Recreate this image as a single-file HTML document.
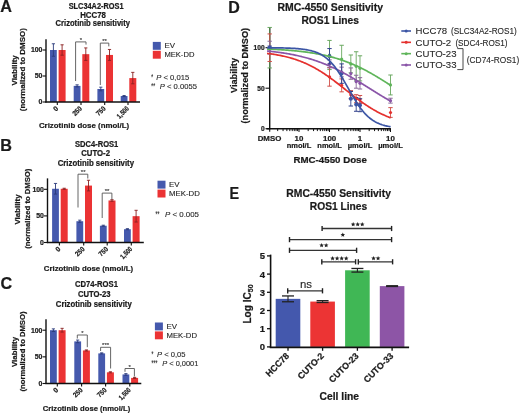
<!DOCTYPE html>
<html><head><meta charset="utf-8"><style>
html,body{margin:0;padding:0;background:#fff;}
svg{display:block;font-family:"Liberation Sans", sans-serif;filter:blur(0.3px);}
text[font-weight="bold"]{stroke:#1a1a1a;stroke-width:0.22px;}
text[font-weight="normal"],text:not([font-weight]){stroke:#2a2a2a;stroke-width:0.12px;}
</style></head><body>
<svg width="520" height="413" viewBox="0 0 520 413">
<rect width="520" height="413" fill="#fff"/>
<rect x="50" y="50" width="6.8" height="52" fill="#4559ad" />
<rect x="58.6" y="50" width="7" height="52" fill="#eb3334" />
<line x1="53.4" y1="43.76" x2="53.4" y2="56.24" stroke="#2a3a7a" stroke-width="0.9" />
<line x1="51.8" y1="43.76" x2="55" y2="43.76" stroke="#2a3a7a" stroke-width="0.9" />
<line x1="51.8" y1="56.24" x2="55" y2="56.24" stroke="#2a3a7a" stroke-width="0.9" />
<line x1="62.1" y1="44.8" x2="62.1" y2="55.2" stroke="#8a2020" stroke-width="0.9" />
<line x1="60.5" y1="44.8" x2="63.7" y2="44.8" stroke="#8a2020" stroke-width="0.9" />
<line x1="60.5" y1="55.2" x2="63.7" y2="55.2" stroke="#8a2020" stroke-width="0.9" />
<rect x="73.7" y="85.88" width="6.8" height="16.12" fill="#4559ad" />
<rect x="82.3" y="54.16" width="7" height="47.84" fill="#eb3334" />
<line x1="77.1" y1="84.84" x2="77.1" y2="86.92" stroke="#2a3a7a" stroke-width="0.9" />
<line x1="75.5" y1="84.84" x2="78.7" y2="84.84" stroke="#2a3a7a" stroke-width="0.9" />
<line x1="75.5" y1="86.92" x2="78.7" y2="86.92" stroke="#2a3a7a" stroke-width="0.9" />
<line x1="85.8" y1="47.92" x2="85.8" y2="60.4" stroke="#8a2020" stroke-width="0.9" />
<line x1="84.2" y1="47.92" x2="87.4" y2="47.92" stroke="#8a2020" stroke-width="0.9" />
<line x1="84.2" y1="60.4" x2="87.4" y2="60.4" stroke="#8a2020" stroke-width="0.9" />
<rect x="97.4" y="89" width="6.8" height="13" fill="#4559ad" />
<rect x="106" y="54.94" width="7" height="47.06" fill="#eb3334" />
<line x1="100.8" y1="87.18" x2="100.8" y2="90.82" stroke="#2a3a7a" stroke-width="0.9" />
<line x1="99.2" y1="87.18" x2="102.4" y2="87.18" stroke="#2a3a7a" stroke-width="0.9" />
<line x1="99.2" y1="90.82" x2="102.4" y2="90.82" stroke="#2a3a7a" stroke-width="0.9" />
<line x1="109.5" y1="49.48" x2="109.5" y2="60.4" stroke="#8a2020" stroke-width="0.9" />
<line x1="107.9" y1="49.48" x2="111.1" y2="49.48" stroke="#8a2020" stroke-width="0.9" />
<line x1="107.9" y1="60.4" x2="111.1" y2="60.4" stroke="#8a2020" stroke-width="0.9" />
<rect x="120.7" y="96.02" width="6.8" height="5.98" fill="#4559ad" />
<rect x="129.3" y="78.08" width="7" height="23.92" fill="#eb3334" />
<line x1="124.1" y1="95.5" x2="124.1" y2="96.54" stroke="#2a3a7a" stroke-width="0.9" />
<line x1="122.5" y1="95.5" x2="125.7" y2="95.5" stroke="#2a3a7a" stroke-width="0.9" />
<line x1="122.5" y1="96.54" x2="125.7" y2="96.54" stroke="#2a3a7a" stroke-width="0.9" />
<line x1="132.8" y1="72.36" x2="132.8" y2="83.8" stroke="#8a2020" stroke-width="0.9" />
<line x1="131.2" y1="72.36" x2="134.4" y2="72.36" stroke="#8a2020" stroke-width="0.9" />
<line x1="131.2" y1="83.8" x2="134.4" y2="83.8" stroke="#8a2020" stroke-width="0.9" />
<line x1="46" y1="39.3" x2="46" y2="102.6" stroke="#111" stroke-width="1.4" />
<line x1="45.3" y1="102" x2="140" y2="102" stroke="#111" stroke-width="1.4" />
<line x1="42.5" y1="50" x2="46" y2="50" stroke="#111" stroke-width="1.1" />
<text x="42.4" y="52.4" font-size="6.9" font-weight="bold" text-anchor="end" fill="#1a1a1a" >100</text>
<line x1="42.5" y1="76" x2="46" y2="76" stroke="#111" stroke-width="1.1" />
<text x="42.4" y="78.4" font-size="6.9" font-weight="bold" text-anchor="end" fill="#1a1a1a" >50</text>
<line x1="42.5" y1="102" x2="46" y2="102" stroke="#111" stroke-width="1.1" />
<text x="42.4" y="104.4" font-size="6.9" font-weight="bold" text-anchor="end" fill="#1a1a1a" >0</text>
<line x1="57.3" y1="102" x2="57.3" y2="105" stroke="#111" stroke-width="1.1" />
<line x1="81" y1="102" x2="81" y2="105" stroke="#111" stroke-width="1.1" />
<line x1="104.7" y1="102" x2="104.7" y2="105" stroke="#111" stroke-width="1.1" />
<line x1="128" y1="102" x2="128" y2="105" stroke="#111" stroke-width="1.1" />
<text transform="translate(58.8,109) rotate(-45)" font-size="7.0" font-weight="bold" text-anchor="end" fill="#1a1a1a">0</text>
<text transform="translate(82.5,109) rotate(-45)" font-size="7.0" font-weight="bold" text-anchor="end" fill="#1a1a1a" textLength="10.4" lengthAdjust="spacingAndGlyphs">250</text>
<text transform="translate(106.2,109) rotate(-45)" font-size="7.0" font-weight="bold" text-anchor="end" fill="#1a1a1a" textLength="10.4" lengthAdjust="spacingAndGlyphs">750</text>
<text transform="translate(129.5,109) rotate(-45)" font-size="7.0" font-weight="bold" text-anchor="end" fill="#1a1a1a" textLength="14.0" lengthAdjust="spacingAndGlyphs">1,500</text>
<polyline points="75.6,81 75.6,41.9 86,41.9 86,44.6" fill="none" stroke="#555" stroke-width="0.9"/>
<text x="81" y="42" font-size="6.0" font-weight="normal" text-anchor="middle" fill="#333" >*</text>
<polyline points="100.3,85 100.3,43.1 108.8,43.1 108.8,46.4" fill="none" stroke="#555" stroke-width="0.9"/>
<text x="104.5" y="43.2" font-size="6.0" font-weight="normal" text-anchor="middle" fill="#333" >**</text>
<text x="68.7" y="9" font-size="8.5" font-weight="bold" text-anchor="start" fill="#1a1a1a" textLength="54.8" lengthAdjust="spacingAndGlyphs" stroke="#1a1a1a" stroke-width="0.25">SLC34A2-ROS1</text>
<text x="80.2" y="17.6" font-size="8.5" font-weight="bold" text-anchor="start" fill="#1a1a1a" textLength="25.8" lengthAdjust="spacingAndGlyphs" stroke="#1a1a1a" stroke-width="0.25">HCC78</text>
<text x="55.6" y="26.1" font-size="8.5" font-weight="bold" text-anchor="start" fill="#1a1a1a" textLength="74.4" lengthAdjust="spacingAndGlyphs" stroke="#1a1a1a" stroke-width="0.25">Crizotinib sensitivity</text>
<text transform="translate(16.6,70.4) rotate(-90)" font-size="7.9" font-weight="bold" text-anchor="middle" fill="#1a1a1a">Viability</text>
<text transform="translate(25.2,69.7) rotate(-90)" font-size="7.9" font-weight="bold" text-anchor="middle" fill="#1a1a1a" textLength="83" lengthAdjust="spacingAndGlyphs">(normalized to DMSO)</text>
<text x="38.9" y="128.2" font-size="8.0" font-weight="bold" text-anchor="start" fill="#1a1a1a" textLength="90.2" lengthAdjust="spacingAndGlyphs" >Crizotinib dose (nmol/L)</text>
<rect x="152.8" y="41.9" width="8" height="7.9" fill="#4559ad" />
<rect x="152.8" y="50.8" width="8" height="7.9" fill="#eb3334" />
<text x="164.4" y="48.2" font-size="7.9" font-weight="normal" text-anchor="start" fill="#222" >EV</text>
<text x="164.4" y="57.2" font-size="7.9" font-weight="normal" text-anchor="start" fill="#222" textLength="30" lengthAdjust="spacingAndGlyphs" >MEK-DD</text>
<text x="151.2" y="79.6" font-size="8.6" fill="#2a2a2a" textLength="1.9" lengthAdjust="spacingAndGlyphs">*</text>
<text x="156.2" y="79.6" font-size="7.8" fill="#2a2a2a" textLength="33.0" lengthAdjust="spacingAndGlyphs"><tspan font-style="italic">P</tspan> &lt; 0,015</text>
<text x="151.2" y="88.7" font-size="8.6" fill="#2a2a2a" textLength="3.9" lengthAdjust="spacingAndGlyphs">**</text>
<text x="159.8" y="88.7" font-size="7.8" fill="#2a2a2a" textLength="37.1" lengthAdjust="spacingAndGlyphs"><tspan font-style="italic">P</tspan> &lt; 0.0055</text>
<text x="0.3" y="12.3" font-size="16.2" font-weight="bold" text-anchor="start" fill="#1a1a1a" >A</text>
<rect x="52.1" y="188.77" width="6.8" height="53.73" fill="#4559ad" />
<rect x="60.7" y="188.77" width="7" height="53.73" fill="#eb3334" />
<line x1="55.5" y1="183.45" x2="55.5" y2="194.09" stroke="#2a3a7a" stroke-width="0.9" />
<line x1="53.9" y1="183.45" x2="57.1" y2="183.45" stroke="#2a3a7a" stroke-width="0.9" />
<line x1="53.9" y1="194.09" x2="57.1" y2="194.09" stroke="#2a3a7a" stroke-width="0.9" />
<line x1="64.2" y1="188.24" x2="64.2" y2="189.3" stroke="#8a2020" stroke-width="0.9" />
<line x1="62.6" y1="188.24" x2="65.8" y2="188.24" stroke="#8a2020" stroke-width="0.9" />
<line x1="62.6" y1="189.3" x2="65.8" y2="189.3" stroke="#8a2020" stroke-width="0.9" />
<rect x="76.4" y="221.22" width="6.8" height="21.28" fill="#4559ad" />
<rect x="85" y="185.58" width="7" height="56.92" fill="#eb3334" />
<line x1="79.8" y1="220.16" x2="79.8" y2="222.28" stroke="#2a3a7a" stroke-width="0.9" />
<line x1="78.2" y1="220.16" x2="81.4" y2="220.16" stroke="#2a3a7a" stroke-width="0.9" />
<line x1="78.2" y1="222.28" x2="81.4" y2="222.28" stroke="#2a3a7a" stroke-width="0.9" />
<line x1="88.5" y1="180.26" x2="88.5" y2="190.9" stroke="#8a2020" stroke-width="0.9" />
<line x1="86.9" y1="180.26" x2="90.1" y2="180.26" stroke="#8a2020" stroke-width="0.9" />
<line x1="86.9" y1="190.9" x2="90.1" y2="190.9" stroke="#8a2020" stroke-width="0.9" />
<rect x="99.9" y="225.74" width="6.8" height="16.76" fill="#4559ad" />
<rect x="108.5" y="200.47" width="7" height="42.03" fill="#eb3334" />
<line x1="103.3" y1="225.21" x2="103.3" y2="226.27" stroke="#2a3a7a" stroke-width="0.9" />
<line x1="101.7" y1="225.21" x2="104.9" y2="225.21" stroke="#2a3a7a" stroke-width="0.9" />
<line x1="101.7" y1="226.27" x2="104.9" y2="226.27" stroke="#2a3a7a" stroke-width="0.9" />
<line x1="112" y1="199.67" x2="112" y2="201.27" stroke="#8a2020" stroke-width="0.9" />
<line x1="110.4" y1="199.67" x2="113.6" y2="199.67" stroke="#8a2020" stroke-width="0.9" />
<line x1="110.4" y1="201.27" x2="113.6" y2="201.27" stroke="#8a2020" stroke-width="0.9" />
<rect x="124" y="229.2" width="6.8" height="13.3" fill="#4559ad" />
<rect x="132.6" y="216.17" width="7" height="26.33" fill="#eb3334" />
<line x1="127.4" y1="228.67" x2="127.4" y2="229.73" stroke="#2a3a7a" stroke-width="0.9" />
<line x1="125.8" y1="228.67" x2="129" y2="228.67" stroke="#2a3a7a" stroke-width="0.9" />
<line x1="125.8" y1="229.73" x2="129" y2="229.73" stroke="#2a3a7a" stroke-width="0.9" />
<line x1="136.1" y1="210.31" x2="136.1" y2="222.02" stroke="#8a2020" stroke-width="0.9" />
<line x1="134.5" y1="210.31" x2="137.7" y2="210.31" stroke="#8a2020" stroke-width="0.9" />
<line x1="134.5" y1="222.02" x2="137.7" y2="222.02" stroke="#8a2020" stroke-width="0.9" />
<line x1="47.5" y1="178.36" x2="47.5" y2="243.1" stroke="#111" stroke-width="1.4" />
<line x1="46.8" y1="242.5" x2="143.8" y2="242.5" stroke="#111" stroke-width="1.4" />
<line x1="44" y1="189.3" x2="47.5" y2="189.3" stroke="#111" stroke-width="1.1" />
<text x="43.9" y="191.7" font-size="6.9" font-weight="bold" text-anchor="end" fill="#1a1a1a" >100</text>
<line x1="44" y1="215.9" x2="47.5" y2="215.9" stroke="#111" stroke-width="1.1" />
<text x="43.9" y="218.3" font-size="6.9" font-weight="bold" text-anchor="end" fill="#1a1a1a" >50</text>
<line x1="44" y1="242.5" x2="47.5" y2="242.5" stroke="#111" stroke-width="1.1" />
<text x="43.9" y="244.9" font-size="6.9" font-weight="bold" text-anchor="end" fill="#1a1a1a" >0</text>
<line x1="59.4" y1="242.5" x2="59.4" y2="245.5" stroke="#111" stroke-width="1.1" />
<line x1="83.7" y1="242.5" x2="83.7" y2="245.5" stroke="#111" stroke-width="1.1" />
<line x1="107.2" y1="242.5" x2="107.2" y2="245.5" stroke="#111" stroke-width="1.1" />
<line x1="131.3" y1="242.5" x2="131.3" y2="245.5" stroke="#111" stroke-width="1.1" />
<text transform="translate(60.9,249.5) rotate(-45)" font-size="7.0" font-weight="bold" text-anchor="end" fill="#1a1a1a">0</text>
<text transform="translate(85.2,249.5) rotate(-45)" font-size="7.0" font-weight="bold" text-anchor="end" fill="#1a1a1a" textLength="10.4" lengthAdjust="spacingAndGlyphs">250</text>
<text transform="translate(108.7,249.5) rotate(-45)" font-size="7.0" font-weight="bold" text-anchor="end" fill="#1a1a1a" textLength="10.4" lengthAdjust="spacingAndGlyphs">750</text>
<text transform="translate(132.8,249.5) rotate(-45)" font-size="7.0" font-weight="bold" text-anchor="end" fill="#1a1a1a" textLength="14.0" lengthAdjust="spacingAndGlyphs">1,500</text>
<polyline points="78,207.5 78,174.2 87.8,174.2 87.8,178.5" fill="none" stroke="#555" stroke-width="0.9"/>
<text x="83.2" y="174.3" font-size="6.0" font-weight="normal" text-anchor="middle" fill="#333" >**</text>
<polyline points="102.2,218 102.2,193.1 111.9,193.1 111.9,199.4" fill="none" stroke="#555" stroke-width="0.9"/>
<text x="107" y="193.2" font-size="6.0" font-weight="normal" text-anchor="middle" fill="#333" >**</text>
<text x="75" y="146.8" font-size="8.5" font-weight="bold" text-anchor="start" fill="#1a1a1a" textLength="43.3" lengthAdjust="spacingAndGlyphs" stroke="#1a1a1a" stroke-width="0.25">SDC4-ROS1</text>
<text x="81.2" y="156.1" font-size="8.5" font-weight="bold" text-anchor="start" fill="#1a1a1a" textLength="28.8" lengthAdjust="spacingAndGlyphs" stroke="#1a1a1a" stroke-width="0.25">CUTO-2</text>
<text x="57.7" y="166.1" font-size="8.5" font-weight="bold" text-anchor="start" fill="#1a1a1a" textLength="76.3" lengthAdjust="spacingAndGlyphs" stroke="#1a1a1a" stroke-width="0.25">Crizotinib sensitivity</text>
<text transform="translate(19.5,209.5) rotate(-90)" font-size="7.9" font-weight="bold" text-anchor="middle" fill="#1a1a1a">Viability</text>
<text transform="translate(29.5,208.7) rotate(-90)" font-size="7.9" font-weight="bold" text-anchor="middle" fill="#1a1a1a" textLength="80" lengthAdjust="spacingAndGlyphs">(normalized to DMSO)</text>
<text x="43.8" y="270.7" font-size="8.0" font-weight="bold" text-anchor="start" fill="#1a1a1a" textLength="89.2" lengthAdjust="spacingAndGlyphs" >Crizotinib dose (nmol/L)</text>
<rect x="157.5" y="180.7" width="8" height="7.9" fill="#4559ad" />
<rect x="157.5" y="189.6" width="8" height="7.9" fill="#eb3334" />
<text x="169.1" y="187" font-size="7.9" font-weight="normal" text-anchor="start" fill="#222" >EV</text>
<text x="169.1" y="196" font-size="7.9" font-weight="normal" text-anchor="start" fill="#222" textLength="30.8" lengthAdjust="spacingAndGlyphs" >MEK-DD</text>
<text x="155.6" y="217.1" font-size="8.6" fill="#2a2a2a" textLength="3.9" lengthAdjust="spacingAndGlyphs">**</text>
<text x="165.0" y="217.1" font-size="7.8" fill="#2a2a2a" textLength="34.0" lengthAdjust="spacingAndGlyphs"><tspan font-style="italic">P</tspan> &lt; 0.005</text>
<text x="0.2" y="150.9" font-size="16.2" font-weight="bold" text-anchor="start" fill="#1a1a1a" >B</text>
<rect x="50" y="330.2" width="6.8" height="53.3" fill="#4559ad" />
<rect x="58.6" y="330.2" width="7" height="53.3" fill="#eb3334" />
<line x1="53.4" y1="328.87" x2="53.4" y2="331.53" stroke="#2a3a7a" stroke-width="0.9" />
<line x1="51.8" y1="328.87" x2="55" y2="328.87" stroke="#2a3a7a" stroke-width="0.9" />
<line x1="51.8" y1="331.53" x2="55" y2="331.53" stroke="#2a3a7a" stroke-width="0.9" />
<line x1="62.1" y1="328.33" x2="62.1" y2="332.07" stroke="#8a2020" stroke-width="0.9" />
<line x1="60.5" y1="328.33" x2="63.7" y2="328.33" stroke="#8a2020" stroke-width="0.9" />
<line x1="60.5" y1="332.07" x2="63.7" y2="332.07" stroke="#8a2020" stroke-width="0.9" />
<rect x="74.3" y="341.39" width="6.8" height="42.11" fill="#4559ad" />
<rect x="82.9" y="350.45" width="7" height="33.05" fill="#eb3334" />
<line x1="77.7" y1="340.06" x2="77.7" y2="342.73" stroke="#2a3a7a" stroke-width="0.9" />
<line x1="76.1" y1="340.06" x2="79.3" y2="340.06" stroke="#2a3a7a" stroke-width="0.9" />
<line x1="76.1" y1="342.73" x2="79.3" y2="342.73" stroke="#2a3a7a" stroke-width="0.9" />
<line x1="86.4" y1="349.92" x2="86.4" y2="350.99" stroke="#8a2020" stroke-width="0.9" />
<line x1="84.8" y1="349.92" x2="88" y2="349.92" stroke="#8a2020" stroke-width="0.9" />
<line x1="84.8" y1="350.99" x2="88" y2="350.99" stroke="#8a2020" stroke-width="0.9" />
<rect x="98.3" y="353.39" width="6.8" height="30.11" fill="#4559ad" />
<rect x="106.9" y="372.31" width="7" height="11.19" fill="#eb3334" />
<line x1="101.7" y1="352.85" x2="101.7" y2="353.92" stroke="#2a3a7a" stroke-width="0.9" />
<line x1="100.1" y1="352.85" x2="103.3" y2="352.85" stroke="#2a3a7a" stroke-width="0.9" />
<line x1="100.1" y1="353.92" x2="103.3" y2="353.92" stroke="#2a3a7a" stroke-width="0.9" />
<line x1="110.4" y1="371.77" x2="110.4" y2="372.84" stroke="#8a2020" stroke-width="0.9" />
<line x1="108.8" y1="371.77" x2="112" y2="371.77" stroke="#8a2020" stroke-width="0.9" />
<line x1="108.8" y1="372.84" x2="112" y2="372.84" stroke="#8a2020" stroke-width="0.9" />
<rect x="122.5" y="374.44" width="6.8" height="9.06" fill="#4559ad" />
<rect x="131.1" y="377.9" width="7" height="5.6" fill="#eb3334" />
<line x1="125.9" y1="373.64" x2="125.9" y2="375.24" stroke="#2a3a7a" stroke-width="0.9" />
<line x1="124.3" y1="373.64" x2="127.5" y2="373.64" stroke="#2a3a7a" stroke-width="0.9" />
<line x1="124.3" y1="375.24" x2="127.5" y2="375.24" stroke="#2a3a7a" stroke-width="0.9" />
<line x1="134.6" y1="377.37" x2="134.6" y2="378.44" stroke="#8a2020" stroke-width="0.9" />
<line x1="133" y1="377.37" x2="136.2" y2="377.37" stroke="#8a2020" stroke-width="0.9" />
<line x1="133" y1="378.44" x2="136.2" y2="378.44" stroke="#8a2020" stroke-width="0.9" />
<line x1="46" y1="319.24" x2="46" y2="384.1" stroke="#111" stroke-width="1.4" />
<line x1="45.3" y1="383.5" x2="141.3" y2="383.5" stroke="#111" stroke-width="1.4" />
<line x1="42.5" y1="330.2" x2="46" y2="330.2" stroke="#111" stroke-width="1.1" />
<text x="42.4" y="332.6" font-size="6.9" font-weight="bold" text-anchor="end" fill="#1a1a1a" >100</text>
<line x1="42.5" y1="356.85" x2="46" y2="356.85" stroke="#111" stroke-width="1.1" />
<text x="42.4" y="359.25" font-size="6.9" font-weight="bold" text-anchor="end" fill="#1a1a1a" >50</text>
<line x1="42.5" y1="383.5" x2="46" y2="383.5" stroke="#111" stroke-width="1.1" />
<text x="42.4" y="385.9" font-size="6.9" font-weight="bold" text-anchor="end" fill="#1a1a1a" >0</text>
<line x1="57.3" y1="383.5" x2="57.3" y2="386.5" stroke="#111" stroke-width="1.1" />
<line x1="81.6" y1="383.5" x2="81.6" y2="386.5" stroke="#111" stroke-width="1.1" />
<line x1="105.6" y1="383.5" x2="105.6" y2="386.5" stroke="#111" stroke-width="1.1" />
<line x1="129.8" y1="383.5" x2="129.8" y2="386.5" stroke="#111" stroke-width="1.1" />
<text transform="translate(58.8,390.5) rotate(-45)" font-size="7.0" font-weight="bold" text-anchor="end" fill="#1a1a1a">0</text>
<text transform="translate(83.1,390.5) rotate(-45)" font-size="7.0" font-weight="bold" text-anchor="end" fill="#1a1a1a" textLength="10.4" lengthAdjust="spacingAndGlyphs">250</text>
<text transform="translate(107.1,390.5) rotate(-45)" font-size="7.0" font-weight="bold" text-anchor="end" fill="#1a1a1a" textLength="10.4" lengthAdjust="spacingAndGlyphs">750</text>
<text transform="translate(131.3,390.5) rotate(-45)" font-size="7.0" font-weight="bold" text-anchor="end" fill="#1a1a1a" textLength="14.0" lengthAdjust="spacingAndGlyphs">1,500</text>
<polyline points="77.3,338.5 77.3,335.0 87.3,335.0 87.3,347.2" fill="none" stroke="#555" stroke-width="0.9"/>
<text x="82.3" y="335.1" font-size="6.0" font-weight="normal" text-anchor="middle" fill="#333" >*</text>
<polyline points="100.6,351 100.6,347.3 110.6,347.3 110.6,368.5" fill="none" stroke="#555" stroke-width="0.9"/>
<text x="105.6" y="347.4" font-size="6.0" font-weight="normal" text-anchor="middle" fill="#333" >***</text>
<polyline points="125,371.8 125,368.5 134.4,368.5 134.4,376.5" fill="none" stroke="#555" stroke-width="0.9"/>
<text x="129.7" y="368.6" font-size="6.0" font-weight="normal" text-anchor="middle" fill="#333" >*</text>
<text x="75" y="287.2" font-size="8.5" font-weight="bold" text-anchor="start" fill="#1a1a1a" textLength="42.9" lengthAdjust="spacingAndGlyphs" stroke="#1a1a1a" stroke-width="0.25">CD74-ROS1</text>
<text x="77.9" y="297.3" font-size="8.5" font-weight="bold" text-anchor="start" fill="#1a1a1a" textLength="32.7" lengthAdjust="spacingAndGlyphs" stroke="#1a1a1a" stroke-width="0.25">CUTO-23</text>
<text x="55.8" y="306.6" font-size="8.5" font-weight="bold" text-anchor="start" fill="#1a1a1a" textLength="75.9" lengthAdjust="spacingAndGlyphs" stroke="#1a1a1a" stroke-width="0.25">Crizotinib sensitivity</text>
<text transform="translate(16.6,352) rotate(-90)" font-size="7.9" font-weight="bold" text-anchor="middle" fill="#1a1a1a">Viability</text>
<text transform="translate(25.2,351.5) rotate(-90)" font-size="7.9" font-weight="bold" text-anchor="middle" fill="#1a1a1a" textLength="80" lengthAdjust="spacingAndGlyphs">(normalized to DMSO)</text>
<text x="42.7" y="410.7" font-size="8.0" font-weight="bold" text-anchor="start" fill="#1a1a1a" textLength="87.5" lengthAdjust="spacingAndGlyphs" >Crizotinib dose (nmol/L)</text>
<rect x="154.9" y="322.5" width="8" height="7.9" fill="#4559ad" />
<rect x="154.9" y="331.4" width="8" height="7.9" fill="#eb3334" />
<text x="166.5" y="328.8" font-size="7.9" font-weight="normal" text-anchor="start" fill="#222" >EV</text>
<text x="166.5" y="337.8" font-size="7.9" font-weight="normal" text-anchor="start" fill="#222" textLength="30.5" lengthAdjust="spacingAndGlyphs" >MEK-DD</text>
<text x="151.6" y="356.6" font-size="8.6" fill="#2a2a2a" textLength="1.9" lengthAdjust="spacingAndGlyphs">*</text>
<text x="157.0" y="356.6" font-size="7.8" fill="#2a2a2a" textLength="28.5" lengthAdjust="spacingAndGlyphs"><tspan font-style="italic">P</tspan> &lt; 0,05</text>
<text x="151.6" y="365.8" font-size="8.6" fill="#2a2a2a" textLength="5.8" lengthAdjust="spacingAndGlyphs">***</text>
<text x="162.2" y="365.8" font-size="7.8" fill="#2a2a2a" textLength="36.2" lengthAdjust="spacingAndGlyphs"><tspan font-style="italic">P</tspan> &lt; 0,0001</text>
<text x="0.4" y="289" font-size="16.2" font-weight="bold" text-anchor="start" fill="#1a1a1a" >C</text>
<text x="228.2" y="12.7" font-size="16" font-weight="bold" text-anchor="start" fill="#1a1a1a" >D</text>
<text x="330.2" y="11.2" font-size="10.4" font-weight="bold" text-anchor="middle" fill="#1a1a1a" textLength="105.5" lengthAdjust="spacingAndGlyphs" >RMC-4550 Sensitivity</text>
<text x="330.2" y="23.6" font-size="10.4" font-weight="bold" text-anchor="middle" fill="#1a1a1a" textLength="57.5" lengthAdjust="spacingAndGlyphs" >ROS1 Lines</text>
<line x1="269.7" y1="27.5" x2="269.7" y2="129.3" stroke="#111" stroke-width="1.4" />
<line x1="266.5" y1="128.7" x2="390.9" y2="128.7" stroke="#111" stroke-width="1.4" />
<line x1="265.5" y1="47.7" x2="269.7" y2="47.7" stroke="#111" stroke-width="1.1" />
<text x="264.6" y="50" font-size="6.6" font-weight="bold" text-anchor="end" fill="#1a1a1a" >100</text>
<line x1="265.5" y1="88.2" x2="269.7" y2="88.2" stroke="#111" stroke-width="1.1" />
<text x="264.6" y="90.5" font-size="6.6" font-weight="bold" text-anchor="end" fill="#1a1a1a" >50</text>
<line x1="265.5" y1="128.7" x2="269.7" y2="128.7" stroke="#111" stroke-width="1.1" />
<text x="264.6" y="131" font-size="6.6" font-weight="bold" text-anchor="end" fill="#1a1a1a" >0</text>
<line x1="269.7" y1="128.7" x2="269.7" y2="131.8" stroke="#111" stroke-width="1.1" />
<line x1="277.68" y1="128.7" x2="277.68" y2="131.1" stroke="#111" stroke-width="1.0" />
<line x1="283.05" y1="128.7" x2="283.05" y2="131.1" stroke="#111" stroke-width="1.0" />
<line x1="286.86" y1="128.7" x2="286.86" y2="131.1" stroke="#111" stroke-width="1.0" />
<line x1="289.82" y1="128.7" x2="289.82" y2="131.1" stroke="#111" stroke-width="1.0" />
<line x1="292.23" y1="128.7" x2="292.23" y2="131.1" stroke="#111" stroke-width="1.0" />
<line x1="294.28" y1="128.7" x2="294.28" y2="131.1" stroke="#111" stroke-width="1.0" />
<line x1="296.04" y1="128.7" x2="296.04" y2="131.1" stroke="#111" stroke-width="1.0" />
<line x1="297.6" y1="128.7" x2="297.6" y2="131.1" stroke="#111" stroke-width="1.0" />
<line x1="299" y1="128.7" x2="299" y2="132" stroke="#111" stroke-width="1.0" />
<line x1="308.18" y1="128.7" x2="308.18" y2="131.1" stroke="#111" stroke-width="1.0" />
<line x1="313.55" y1="128.7" x2="313.55" y2="131.1" stroke="#111" stroke-width="1.0" />
<line x1="317.36" y1="128.7" x2="317.36" y2="131.1" stroke="#111" stroke-width="1.0" />
<line x1="320.32" y1="128.7" x2="320.32" y2="131.1" stroke="#111" stroke-width="1.0" />
<line x1="322.73" y1="128.7" x2="322.73" y2="131.1" stroke="#111" stroke-width="1.0" />
<line x1="324.78" y1="128.7" x2="324.78" y2="131.1" stroke="#111" stroke-width="1.0" />
<line x1="326.54" y1="128.7" x2="326.54" y2="131.1" stroke="#111" stroke-width="1.0" />
<line x1="328.1" y1="128.7" x2="328.1" y2="131.1" stroke="#111" stroke-width="1.0" />
<line x1="329.5" y1="128.7" x2="329.5" y2="132" stroke="#111" stroke-width="1.0" />
<line x1="338.68" y1="128.7" x2="338.68" y2="131.1" stroke="#111" stroke-width="1.0" />
<line x1="344.05" y1="128.7" x2="344.05" y2="131.1" stroke="#111" stroke-width="1.0" />
<line x1="347.86" y1="128.7" x2="347.86" y2="131.1" stroke="#111" stroke-width="1.0" />
<line x1="350.82" y1="128.7" x2="350.82" y2="131.1" stroke="#111" stroke-width="1.0" />
<line x1="353.23" y1="128.7" x2="353.23" y2="131.1" stroke="#111" stroke-width="1.0" />
<line x1="355.28" y1="128.7" x2="355.28" y2="131.1" stroke="#111" stroke-width="1.0" />
<line x1="357.04" y1="128.7" x2="357.04" y2="131.1" stroke="#111" stroke-width="1.0" />
<line x1="358.6" y1="128.7" x2="358.6" y2="131.1" stroke="#111" stroke-width="1.0" />
<line x1="360" y1="128.7" x2="360" y2="132" stroke="#111" stroke-width="1.0" />
<line x1="369.18" y1="128.7" x2="369.18" y2="131.1" stroke="#111" stroke-width="1.0" />
<line x1="374.55" y1="128.7" x2="374.55" y2="131.1" stroke="#111" stroke-width="1.0" />
<line x1="378.36" y1="128.7" x2="378.36" y2="131.1" stroke="#111" stroke-width="1.0" />
<line x1="381.32" y1="128.7" x2="381.32" y2="131.1" stroke="#111" stroke-width="1.0" />
<line x1="383.73" y1="128.7" x2="383.73" y2="131.1" stroke="#111" stroke-width="1.0" />
<line x1="385.78" y1="128.7" x2="385.78" y2="131.1" stroke="#111" stroke-width="1.0" />
<line x1="387.54" y1="128.7" x2="387.54" y2="131.1" stroke="#111" stroke-width="1.0" />
<line x1="389.1" y1="128.7" x2="389.1" y2="131.1" stroke="#111" stroke-width="1.0" />
<line x1="390.5" y1="128.7" x2="390.5" y2="132" stroke="#111" stroke-width="1.0" />
<text x="269.5" y="141" font-size="7.9" font-weight="bold" text-anchor="middle" fill="#1a1a1a" textLength="23.6" lengthAdjust="spacingAndGlyphs" >DMSO</text>
<text x="299" y="141" font-size="7.9" font-weight="bold" text-anchor="middle" fill="#1a1a1a" >10</text>
<text x="299" y="148.2" font-size="7.4" font-weight="bold" text-anchor="middle" fill="#1a1a1a" textLength="24.5" lengthAdjust="spacingAndGlyphs" >nmol/L</text>
<text x="329.6" y="141" font-size="7.9" font-weight="bold" text-anchor="middle" fill="#1a1a1a" >100</text>
<text x="329.6" y="148.2" font-size="7.4" font-weight="bold" text-anchor="middle" fill="#1a1a1a" textLength="24.5" lengthAdjust="spacingAndGlyphs" >nmol/L</text>
<text x="360" y="141" font-size="7.9" font-weight="bold" text-anchor="middle" fill="#1a1a1a" >1</text>
<text x="360" y="148.2" font-size="7.4" font-weight="bold" text-anchor="middle" fill="#1a1a1a" textLength="24.5" lengthAdjust="spacingAndGlyphs" >µmol/L</text>
<text x="390.5" y="141" font-size="7.9" font-weight="bold" text-anchor="middle" fill="#1a1a1a" >10</text>
<text x="390.5" y="148.2" font-size="7.4" font-weight="bold" text-anchor="middle" fill="#1a1a1a" textLength="24.5" lengthAdjust="spacingAndGlyphs" >µmol/L</text>
<text x="330.2" y="163" font-size="9.7" font-weight="bold" text-anchor="middle" fill="#1a1a1a" textLength="73.4" lengthAdjust="spacingAndGlyphs" >RMC-4550 Dose</text>
<text transform="translate(236.8,75.5) rotate(-90)" font-size="9.2" font-weight="bold" text-anchor="middle" fill="#1a1a1a">Viability</text>
<text transform="translate(247.8,75.7) rotate(-90)" font-size="9.2" font-weight="bold" text-anchor="middle" fill="#1a1a1a" textLength="95.5" lengthAdjust="spacingAndGlyphs">(normalized to DMSO)</text>
<line x1="269.7" y1="27.45" x2="269.7" y2="67.95" stroke="#6aa860" stroke-width="0.9" />
<line x1="267.5" y1="27.45" x2="271.9" y2="27.45" stroke="#6aa860" stroke-width="1.0" />
<line x1="267.5" y1="67.95" x2="271.9" y2="67.95" stroke="#6aa860" stroke-width="1.0" />
<circle cx="269.70" cy="47.70" r="1.6" fill="#5fb55a"/>
<line x1="329.5" y1="40.41" x2="329.5" y2="69.57" stroke="#6aa860" stroke-width="0.9" />
<line x1="327.3" y1="40.41" x2="331.7" y2="40.41" stroke="#6aa860" stroke-width="1.0" />
<line x1="327.3" y1="69.57" x2="331.7" y2="69.57" stroke="#6aa860" stroke-width="1.0" />
<circle cx="329.50" cy="54.99" r="1.6" fill="#5fb55a"/>
<line x1="341.64" y1="45.27" x2="341.64" y2="72.81" stroke="#6aa860" stroke-width="0.9" />
<line x1="339.44" y1="45.27" x2="343.84" y2="45.27" stroke="#6aa860" stroke-width="1.0" />
<line x1="339.44" y1="72.81" x2="343.84" y2="72.81" stroke="#6aa860" stroke-width="1.0" />
<circle cx="341.64" cy="59.04" r="1.6" fill="#5fb55a"/>
<line x1="350.82" y1="54.99" x2="350.82" y2="72.81" stroke="#6aa860" stroke-width="0.9" />
<line x1="348.62" y1="54.99" x2="353.02" y2="54.99" stroke="#6aa860" stroke-width="1.0" />
<line x1="348.62" y1="72.81" x2="353.02" y2="72.81" stroke="#6aa860" stroke-width="1.0" />
<circle cx="350.82" cy="63.90" r="1.6" fill="#5fb55a"/>
<line x1="356.19" y1="51.75" x2="356.19" y2="80.91" stroke="#6aa860" stroke-width="0.9" />
<line x1="353.99" y1="51.75" x2="358.39" y2="51.75" stroke="#6aa860" stroke-width="1.0" />
<line x1="353.99" y1="80.91" x2="358.39" y2="80.91" stroke="#6aa860" stroke-width="1.0" />
<circle cx="356.19" cy="66.33" r="1.6" fill="#5fb55a"/>
<line x1="360" y1="55.8" x2="360" y2="80.91" stroke="#6aa860" stroke-width="0.9" />
<line x1="357.8" y1="55.8" x2="362.2" y2="55.8" stroke="#6aa860" stroke-width="1.0" />
<line x1="357.8" y1="80.91" x2="362.2" y2="80.91" stroke="#6aa860" stroke-width="1.0" />
<circle cx="360.00" cy="68.35" r="1.6" fill="#5fb55a"/>
<line x1="390.5" y1="75" x2="390.5" y2="94.92" stroke="#6aa860" stroke-width="0.9" />
<line x1="388.3" y1="75" x2="392.7" y2="75" stroke="#6aa860" stroke-width="1.0" />
<line x1="388.3" y1="94.92" x2="392.7" y2="94.92" stroke="#6aa860" stroke-width="1.0" />
<circle cx="390.50" cy="84.96" r="1.6" fill="#5fb55a"/>
<line x1="269.7" y1="33.93" x2="269.7" y2="61.47" stroke="#d0504a" stroke-width="0.9" />
<line x1="267.5" y1="33.93" x2="271.9" y2="33.93" stroke="#d0504a" stroke-width="1.0" />
<line x1="267.5" y1="61.47" x2="271.9" y2="61.47" stroke="#d0504a" stroke-width="1.0" />
<circle cx="269.70" cy="47.70" r="1.6" fill="#e5312e"/>
<line x1="329.5" y1="67.54" x2="329.5" y2="86.17" stroke="#d0504a" stroke-width="0.9" />
<line x1="327.3" y1="67.54" x2="331.7" y2="67.54" stroke="#d0504a" stroke-width="1.0" />
<line x1="327.3" y1="86.17" x2="331.7" y2="86.17" stroke="#d0504a" stroke-width="1.0" />
<circle cx="329.50" cy="76.86" r="1.6" fill="#e5312e"/>
<line x1="341.64" y1="78.88" x2="341.64" y2="91.84" stroke="#d0504a" stroke-width="0.9" />
<line x1="339.44" y1="78.88" x2="343.84" y2="78.88" stroke="#d0504a" stroke-width="1.0" />
<line x1="339.44" y1="91.84" x2="343.84" y2="91.84" stroke="#d0504a" stroke-width="1.0" />
<circle cx="341.64" cy="85.36" r="1.6" fill="#e5312e"/>
<line x1="350.82" y1="90.63" x2="350.82" y2="98.73" stroke="#d0504a" stroke-width="0.9" />
<line x1="348.62" y1="90.63" x2="353.02" y2="90.63" stroke="#d0504a" stroke-width="1.0" />
<line x1="348.62" y1="98.73" x2="353.02" y2="98.73" stroke="#d0504a" stroke-width="1.0" />
<circle cx="350.82" cy="94.68" r="1.6" fill="#e5312e"/>
<line x1="356.19" y1="94.68" x2="356.19" y2="102.78" stroke="#d0504a" stroke-width="0.9" />
<line x1="353.99" y1="94.68" x2="358.39" y2="94.68" stroke="#d0504a" stroke-width="1.0" />
<line x1="353.99" y1="102.78" x2="358.39" y2="102.78" stroke="#d0504a" stroke-width="1.0" />
<circle cx="356.19" cy="98.73" r="1.6" fill="#e5312e"/>
<line x1="360" y1="95.49" x2="360" y2="103.59" stroke="#d0504a" stroke-width="0.9" />
<line x1="357.8" y1="95.49" x2="362.2" y2="95.49" stroke="#d0504a" stroke-width="1.0" />
<line x1="357.8" y1="103.59" x2="362.2" y2="103.59" stroke="#d0504a" stroke-width="1.0" />
<circle cx="360.00" cy="99.54" r="1.6" fill="#e5312e"/>
<line x1="390.5" y1="107.64" x2="390.5" y2="117.36" stroke="#d0504a" stroke-width="0.9" />
<line x1="388.3" y1="107.64" x2="392.7" y2="107.64" stroke="#d0504a" stroke-width="1.0" />
<line x1="388.3" y1="117.36" x2="392.7" y2="117.36" stroke="#d0504a" stroke-width="1.0" />
<circle cx="390.50" cy="112.50" r="1.6" fill="#e5312e"/>
<line x1="269.7" y1="41.22" x2="269.7" y2="54.18" stroke="#8a6a9a" stroke-width="0.9" />
<line x1="267.5" y1="41.22" x2="271.9" y2="41.22" stroke="#8a6a9a" stroke-width="1.0" />
<line x1="267.5" y1="54.18" x2="271.9" y2="54.18" stroke="#8a6a9a" stroke-width="1.0" />
<circle cx="269.70" cy="47.70" r="1.6" fill="#8a55a8"/>
<line x1="329.5" y1="59.85" x2="329.5" y2="67.95" stroke="#8a6a9a" stroke-width="0.9" />
<line x1="327.3" y1="59.85" x2="331.7" y2="59.85" stroke="#8a6a9a" stroke-width="1.0" />
<line x1="327.3" y1="67.95" x2="331.7" y2="67.95" stroke="#8a6a9a" stroke-width="1.0" />
<circle cx="329.50" cy="63.90" r="1.6" fill="#8a55a8"/>
<line x1="341.64" y1="67.14" x2="341.64" y2="76.86" stroke="#8a6a9a" stroke-width="0.9" />
<line x1="339.44" y1="67.14" x2="343.84" y2="67.14" stroke="#8a6a9a" stroke-width="1.0" />
<line x1="339.44" y1="76.86" x2="343.84" y2="76.86" stroke="#8a6a9a" stroke-width="1.0" />
<circle cx="341.64" cy="72.00" r="1.6" fill="#8a55a8"/>
<line x1="350.82" y1="67.95" x2="350.82" y2="79.29" stroke="#8a6a9a" stroke-width="0.9" />
<line x1="348.62" y1="67.95" x2="353.02" y2="67.95" stroke="#8a6a9a" stroke-width="1.0" />
<line x1="348.62" y1="79.29" x2="353.02" y2="79.29" stroke="#8a6a9a" stroke-width="1.0" />
<circle cx="350.82" cy="73.62" r="1.6" fill="#8a55a8"/>
<line x1="356.19" y1="75.24" x2="356.19" y2="88.2" stroke="#8a6a9a" stroke-width="0.9" />
<line x1="353.99" y1="75.24" x2="358.39" y2="75.24" stroke="#8a6a9a" stroke-width="1.0" />
<line x1="353.99" y1="88.2" x2="358.39" y2="88.2" stroke="#8a6a9a" stroke-width="1.0" />
<circle cx="356.19" cy="81.72" r="1.6" fill="#8a55a8"/>
<line x1="360" y1="77.67" x2="360" y2="89.01" stroke="#8a6a9a" stroke-width="0.9" />
<line x1="357.8" y1="77.67" x2="362.2" y2="77.67" stroke="#8a6a9a" stroke-width="1.0" />
<line x1="357.8" y1="89.01" x2="362.2" y2="89.01" stroke="#8a6a9a" stroke-width="1.0" />
<circle cx="360.00" cy="83.34" r="1.6" fill="#8a55a8"/>
<line x1="390.5" y1="98.24" x2="390.5" y2="103.1" stroke="#8a6a9a" stroke-width="0.9" />
<line x1="388.3" y1="98.24" x2="392.7" y2="98.24" stroke="#8a6a9a" stroke-width="1.0" />
<line x1="388.3" y1="103.1" x2="392.7" y2="103.1" stroke="#8a6a9a" stroke-width="1.0" />
<circle cx="390.50" cy="100.67" r="1.6" fill="#8a55a8"/>
<line x1="269.7" y1="46.08" x2="269.7" y2="49.32" stroke="#2f3f8a" stroke-width="0.9" />
<line x1="267.5" y1="46.08" x2="271.9" y2="46.08" stroke="#2f3f8a" stroke-width="1.0" />
<line x1="267.5" y1="49.32" x2="271.9" y2="49.32" stroke="#2f3f8a" stroke-width="1.0" />
<circle cx="269.70" cy="47.70" r="2.0" fill="#3b55a5"/>
<line x1="329.5" y1="48.59" x2="329.5" y2="63.98" stroke="#2f3f8a" stroke-width="0.9" />
<line x1="327.3" y1="48.59" x2="331.7" y2="48.59" stroke="#2f3f8a" stroke-width="1.0" />
<line x1="327.3" y1="63.98" x2="331.7" y2="63.98" stroke="#2f3f8a" stroke-width="1.0" />
<circle cx="329.50" cy="56.29" r="2.0" fill="#3b55a5"/>
<line x1="341.64" y1="63.9" x2="341.64" y2="83.34" stroke="#2f3f8a" stroke-width="0.9" />
<line x1="339.44" y1="63.9" x2="343.84" y2="63.9" stroke="#2f3f8a" stroke-width="1.0" />
<line x1="339.44" y1="83.34" x2="343.84" y2="83.34" stroke="#2f3f8a" stroke-width="1.0" />
<circle cx="341.64" cy="73.62" r="2.0" fill="#3b55a5"/>
<line x1="350.82" y1="91.44" x2="350.82" y2="106.02" stroke="#2f3f8a" stroke-width="0.9" />
<line x1="348.62" y1="91.44" x2="353.02" y2="91.44" stroke="#2f3f8a" stroke-width="1.0" />
<line x1="348.62" y1="106.02" x2="353.02" y2="106.02" stroke="#2f3f8a" stroke-width="1.0" />
<circle cx="350.82" cy="98.73" r="2.0" fill="#3b55a5"/>
<line x1="356.19" y1="97.51" x2="356.19" y2="111.28" stroke="#2f3f8a" stroke-width="0.9" />
<line x1="353.99" y1="97.51" x2="358.39" y2="97.51" stroke="#2f3f8a" stroke-width="1.0" />
<line x1="353.99" y1="111.28" x2="358.39" y2="111.28" stroke="#2f3f8a" stroke-width="1.0" />
<circle cx="356.19" cy="104.40" r="2.0" fill="#3b55a5"/>
<line x1="360" y1="98.73" x2="360" y2="111.69" stroke="#2f3f8a" stroke-width="0.9" />
<line x1="357.8" y1="98.73" x2="362.2" y2="98.73" stroke="#2f3f8a" stroke-width="1.0" />
<line x1="357.8" y1="111.69" x2="362.2" y2="111.69" stroke="#2f3f8a" stroke-width="1.0" />
<circle cx="360.00" cy="105.21" r="2.0" fill="#3b55a5"/>
<polyline points="267.0,49.00 268.0,49.04 269.0,49.08 270.0,49.13 271.0,49.17 272.0,49.22 273.0,49.27 274.0,49.32 275.0,49.37 276.0,49.43 277.0,49.48 278.0,49.54 279.0,49.60 280.0,49.66 281.0,49.72 282.0,49.78 283.0,49.85 284.0,49.92 285.0,49.99 286.0,50.06 287.0,50.14 288.0,50.21 289.0,50.29 290.0,50.38 291.0,50.46 292.0,50.55 293.0,50.64 294.0,50.73 295.0,50.82 296.0,50.92 297.0,51.02 298.0,51.13 299.0,51.23 300.0,51.34 301.0,51.46 302.0,51.57 303.0,51.70 304.0,51.82 305.0,51.95 306.0,52.08 307.0,52.21 308.0,52.35 309.0,52.50 310.0,52.64 311.0,52.79 312.0,52.95 313.0,53.11 314.0,53.27 315.0,53.44 316.0,53.62 317.0,53.80 318.0,53.98 319.0,54.17 320.0,54.36 321.0,54.56 322.0,54.77 323.0,54.98 324.0,55.19 325.0,55.41 326.0,55.64 327.0,55.88 328.0,56.11 329.0,56.36 330.0,56.61 331.0,56.87 332.0,57.14 333.0,57.41 334.0,57.69 335.0,57.97 336.0,58.26 337.0,58.56 338.0,58.87 339.0,59.18 340.0,59.50 341.0,59.83 342.0,60.16 343.0,60.51 344.0,60.86 345.0,61.22 346.0,61.58 347.0,61.96 348.0,62.34 349.0,62.73 350.0,63.12 351.0,63.53 352.0,63.94 353.0,64.37 354.0,64.80 355.0,65.23 356.0,65.68 357.0,66.13 358.0,66.59 359.0,67.06 360.0,67.54 361.0,68.03 362.0,68.52 363.0,69.02 364.0,69.53 365.0,70.05 366.0,70.57 367.0,71.10 368.0,71.64 369.0,72.19 370.0,72.74 371.0,73.30 372.0,73.87 373.0,74.44 374.0,75.02 375.0,75.61 376.0,76.20 377.0,76.79 378.0,77.40 379.0,78.00 380.0,78.62 381.0,79.23 382.0,79.85 383.0,80.48 384.0,81.11 385.0,81.74 386.0,82.38 387.0,83.02 388.0,83.66 389.0,84.30 390.0,84.95 390.6,85.34" fill="none" stroke="#5fb55a" stroke-width="1.7" stroke-linejoin="round"/>
<polyline points="267.0,50.99 268.0,51.08 269.0,51.19 270.0,51.29 271.0,51.40 272.0,51.51 273.0,51.62 274.0,51.74 275.0,51.86 276.0,51.99 277.0,52.11 278.0,52.24 279.0,52.38 280.0,52.52 281.0,52.66 282.0,52.81 283.0,52.96 284.0,53.11 285.0,53.27 286.0,53.43 287.0,53.60 288.0,53.77 289.0,53.95 290.0,54.13 291.0,54.31 292.0,54.50 293.0,54.70 294.0,54.90 295.0,55.10 296.0,55.31 297.0,55.53 298.0,55.75 299.0,55.98 300.0,56.21 301.0,56.45 302.0,56.70 303.0,56.95 304.0,57.20 305.0,57.47 306.0,57.73 307.0,58.01 308.0,58.29 309.0,58.58 310.0,58.87 311.0,59.18 312.0,59.48 313.0,59.80 314.0,60.12 315.0,60.45 316.0,60.79 317.0,61.13 318.0,61.48 319.0,61.84 320.0,62.20 321.0,62.57 322.0,62.95 323.0,63.34 324.0,63.74 325.0,64.14 326.0,64.55 327.0,64.96 328.0,65.39 329.0,65.82 330.0,66.26 331.0,66.70 332.0,67.16 333.0,67.62 334.0,68.09 335.0,68.56 336.0,69.05 337.0,69.54 338.0,70.03 339.0,70.54 340.0,71.05 341.0,71.57 342.0,72.09 343.0,72.62 344.0,73.16 345.0,73.70 346.0,74.25 347.0,74.81 348.0,75.37 349.0,75.94 350.0,76.51 351.0,77.08 352.0,77.67 353.0,78.25 354.0,78.84 355.0,79.44 356.0,80.04 357.0,80.64 358.0,81.25 359.0,81.86 360.0,82.47 361.0,83.09 362.0,83.71 363.0,84.33 364.0,84.95 365.0,85.57 366.0,86.20 367.0,86.82 368.0,87.45 369.0,88.07 370.0,88.70 371.0,89.33 372.0,89.95 373.0,90.58 374.0,91.20 375.0,91.83 376.0,92.45 377.0,93.07 378.0,93.68 379.0,94.30 380.0,94.91 381.0,95.52 382.0,96.12 383.0,96.72 384.0,97.32 385.0,97.91 386.0,98.50 387.0,99.08 388.0,99.66 389.0,100.24 390.0,100.80 390.6,101.14" fill="none" stroke="#8a55a8" stroke-width="1.7" stroke-linejoin="round"/>
<polyline points="267.0,53.35 268.0,53.48 269.0,53.61 270.0,53.75 271.0,53.89 272.0,54.03 273.0,54.19 274.0,54.34 275.0,54.51 276.0,54.68 277.0,54.85 278.0,55.04 279.0,55.22 280.0,55.42 281.0,55.62 282.0,55.83 283.0,56.05 284.0,56.27 285.0,56.51 286.0,56.75 287.0,56.99 288.0,57.25 289.0,57.52 290.0,57.79 291.0,58.07 292.0,58.37 293.0,58.67 294.0,58.98 295.0,59.30 296.0,59.63 297.0,59.98 298.0,60.33 299.0,60.69 300.0,61.06 301.0,61.45 302.0,61.85 303.0,62.25 304.0,62.67 305.0,63.10 306.0,63.55 307.0,64.00 308.0,64.47 309.0,64.95 310.0,65.44 311.0,65.94 312.0,66.45 313.0,66.98 314.0,67.52 315.0,68.07 316.0,68.64 317.0,69.21 318.0,69.80 319.0,70.40 320.0,71.02 321.0,71.64 322.0,72.28 323.0,72.92 324.0,73.58 325.0,74.25 326.0,74.93 327.0,75.62 328.0,76.32 329.0,77.02 330.0,77.74 331.0,78.47 332.0,79.20 333.0,79.94 334.0,80.69 335.0,81.45 336.0,82.21 337.0,82.98 338.0,83.75 339.0,84.53 340.0,85.31 341.0,86.10 342.0,86.88 343.0,87.67 344.0,88.46 345.0,89.26 346.0,90.05 347.0,90.84 348.0,91.63 349.0,92.42 350.0,93.20 351.0,93.99 352.0,94.77 353.0,95.54 354.0,96.31 355.0,97.08 356.0,97.83 357.0,98.59 358.0,99.33 359.0,100.07 360.0,100.80 361.0,101.52 362.0,102.23 363.0,102.94 364.0,103.63 365.0,104.31 366.0,104.98 367.0,105.65 368.0,106.30 369.0,106.94 370.0,107.57 371.0,108.18 372.0,108.79 373.0,109.38 374.0,109.96 375.0,110.53 376.0,111.09 377.0,111.63 378.0,112.17 379.0,112.69 380.0,113.19 381.0,113.69 382.0,114.17 383.0,114.64 384.0,115.10 385.0,115.55 386.0,115.99 387.0,116.41 388.0,116.82 389.0,117.22 390.0,117.61 390.6,117.84" fill="none" stroke="#e5312e" stroke-width="1.7" stroke-linejoin="round"/>
<polyline points="267.0,47.77 268.0,47.77 269.0,47.78 270.0,47.79 271.0,47.79 272.0,47.80 273.0,47.81 274.0,47.82 275.0,47.83 276.0,47.85 277.0,47.86 278.0,47.87 279.0,47.89 280.0,47.91 281.0,47.92 282.0,47.95 283.0,47.97 284.0,47.99 285.0,48.02 286.0,48.05 287.0,48.08 288.0,48.11 289.0,48.15 290.0,48.19 291.0,48.24 292.0,48.29 293.0,48.34 294.0,48.40 295.0,48.46 296.0,48.53 297.0,48.60 298.0,48.69 299.0,48.78 300.0,48.87 301.0,48.98 302.0,49.09 303.0,49.22 304.0,49.35 305.0,49.50 306.0,49.66 307.0,49.84 308.0,50.03 309.0,50.23 310.0,50.46 311.0,50.70 312.0,50.96 313.0,51.25 314.0,51.56 315.0,51.89 316.0,52.26 317.0,52.65 318.0,53.07 319.0,53.53 320.0,54.02 321.0,54.55 322.0,55.12 323.0,55.73 324.0,56.39 325.0,57.09 326.0,57.84 327.0,58.64 328.0,59.50 329.0,60.41 330.0,61.38 331.0,62.40 332.0,63.48 333.0,64.63 334.0,65.83 335.0,67.09 336.0,68.41 337.0,69.79 338.0,71.23 339.0,72.71 340.0,74.25 341.0,75.84 342.0,77.47 343.0,79.13 344.0,80.83 345.0,82.56 346.0,84.31 347.0,86.07 348.0,87.85 349.0,89.62 350.0,91.39 351.0,93.14 352.0,94.88 353.0,96.59 354.0,98.27 355.0,99.91 356.0,101.52 357.0,103.08 358.0,104.59 359.0,106.04 360.0,107.44 361.0,108.79 362.0,110.07 363.0,111.30 364.0,112.47 365.0,113.57 366.0,114.62 367.0,115.61 368.0,116.54 369.0,117.42 370.0,118.24 371.0,119.02 372.0,119.74 373.0,120.41 374.0,121.04 375.0,121.63 376.0,122.17 377.0,122.68 378.0,123.15 379.0,123.59 380.0,123.99 381.0,124.36 382.0,124.71 383.0,125.03 384.0,125.32 385.0,125.60 386.0,125.85 387.0,126.08 388.0,126.29 389.0,126.49 390.0,126.67 390.6,126.77" fill="none" stroke="#3b55a5" stroke-width="1.7" stroke-linejoin="round"/>
<line x1="401.3" y1="31" x2="411" y2="31" stroke="#3b55a5" stroke-width="1.6" />
<circle cx="406.2" cy="31.0" r="1.5" fill="#3b55a5"/>
<text x="415.6" y="34.4" font-size="9.6" font-weight="normal" text-anchor="start" fill="#2a2a2a" >HCC78</text>
<line x1="401.3" y1="42.33" x2="411" y2="42.33" stroke="#e5312e" stroke-width="1.6" />
<circle cx="406.2" cy="42.33" r="1.5" fill="#e5312e"/>
<text x="415.6" y="45.73" font-size="9.6" font-weight="normal" text-anchor="start" fill="#2a2a2a" >CUTO-2</text>
<line x1="401.3" y1="53.66" x2="411" y2="53.66" stroke="#5fb55a" stroke-width="1.6" />
<circle cx="406.2" cy="53.66" r="1.5" fill="#5fb55a"/>
<text x="415.6" y="57.06" font-size="9.6" font-weight="normal" text-anchor="start" fill="#2a2a2a" >CUTO-23</text>
<line x1="401.3" y1="64.99" x2="411" y2="64.99" stroke="#8a55a8" stroke-width="1.6" />
<circle cx="406.2" cy="64.99000000000001" r="1.5" fill="#8a55a8"/>
<text x="415.6" y="68.39" font-size="9.6" font-weight="normal" text-anchor="start" fill="#2a2a2a" >CUTO-33</text>
<text x="451" y="34.3" font-size="8.6" font-weight="normal" text-anchor="start" fill="#2a2a2a" textLength="65.8" lengthAdjust="spacingAndGlyphs" >(SLC34A2-ROS1)</text>
<text x="455.4" y="45.6" font-size="8.6" font-weight="normal" text-anchor="start" fill="#2a2a2a" textLength="52.2" lengthAdjust="spacingAndGlyphs" >(SDC4-ROS1)</text>
<text x="466.8" y="62.5" font-size="8.6" font-weight="normal" text-anchor="start" fill="#2a2a2a" textLength="52.4" lengthAdjust="spacingAndGlyphs" >(CD74-ROS1)</text>
<polyline points="457.3,48.6 463,48.6 463,69.6 457.3,69.6" fill="none" stroke="#333" stroke-width="0.9"/>
<text x="229.5" y="199" font-size="15.8" font-weight="bold" text-anchor="start" fill="#1a1a1a" textLength="9.6" lengthAdjust="spacingAndGlyphs" >E</text>
<text x="338.6" y="196.9" font-size="10.3" font-weight="bold" text-anchor="middle" fill="#1a1a1a" textLength="104.6" lengthAdjust="spacingAndGlyphs" >RMC-4550 Sensitivity</text>
<text x="338.5" y="210.1" font-size="10.3" font-weight="bold" text-anchor="middle" fill="#1a1a1a" textLength="57.4" lengthAdjust="spacingAndGlyphs" >ROS1 Lines</text>
<rect x="275.7" y="298.85" width="24.6" height="48.05" fill="#4458ad" />
<line x1="288" y1="295.94" x2="288" y2="301.76" stroke="#222" stroke-width="1.1" />
<line x1="282" y1="295.94" x2="294" y2="295.94" stroke="#222" stroke-width="1.3" />
<line x1="282" y1="301.76" x2="294" y2="301.76" stroke="#222" stroke-width="1.3" />
<rect x="310.3" y="301.58" width="24.6" height="45.32" fill="#ec3434" />
<line x1="322.6" y1="300.67" x2="322.6" y2="302.49" stroke="#222" stroke-width="1.1" />
<line x1="316.6" y1="300.67" x2="328.6" y2="300.67" stroke="#222" stroke-width="1.3" />
<line x1="316.6" y1="302.49" x2="328.6" y2="302.49" stroke="#222" stroke-width="1.3" />
<rect x="345.1" y="270.28" width="24.6" height="76.62" fill="#40b755" />
<line x1="357.4" y1="268.46" x2="357.4" y2="272.1" stroke="#222" stroke-width="1.1" />
<line x1="351.4" y1="268.46" x2="363.4" y2="268.46" stroke="#222" stroke-width="1.3" />
<line x1="351.4" y1="272.1" x2="363.4" y2="272.1" stroke="#222" stroke-width="1.3" />
<rect x="379.8" y="286.11" width="24.6" height="60.79" fill="#8d55a6" />
<line x1="392.1" y1="285.75" x2="392.1" y2="286.48" stroke="#222" stroke-width="1.1" />
<line x1="386.1" y1="285.75" x2="398.1" y2="285.75" stroke="#222" stroke-width="1.3" />
<line x1="386.1" y1="286.48" x2="398.1" y2="286.48" stroke="#222" stroke-width="1.3" />
<line x1="270.6" y1="254.6" x2="270.6" y2="347.9" stroke="#111" stroke-width="1.6" />
<line x1="269.8" y1="347.4" x2="409.1" y2="347.4" stroke="#111" stroke-width="1.6" />
<line x1="267" y1="346.9" x2="270.6" y2="346.9" stroke="#111" stroke-width="1.3" />
<text x="265" y="350.3" font-size="9.5" font-weight="bold" text-anchor="end" fill="#1a1a1a" >0</text>
<line x1="267" y1="328.7" x2="270.6" y2="328.7" stroke="#111" stroke-width="1.3" />
<text x="265" y="332.1" font-size="9.5" font-weight="bold" text-anchor="end" fill="#1a1a1a" >1</text>
<line x1="267" y1="310.5" x2="270.6" y2="310.5" stroke="#111" stroke-width="1.3" />
<text x="265" y="313.9" font-size="9.5" font-weight="bold" text-anchor="end" fill="#1a1a1a" >2</text>
<line x1="267" y1="292.3" x2="270.6" y2="292.3" stroke="#111" stroke-width="1.3" />
<text x="265" y="295.7" font-size="9.5" font-weight="bold" text-anchor="end" fill="#1a1a1a" >3</text>
<line x1="267" y1="274.1" x2="270.6" y2="274.1" stroke="#111" stroke-width="1.3" />
<text x="265" y="277.5" font-size="9.5" font-weight="bold" text-anchor="end" fill="#1a1a1a" >4</text>
<line x1="267" y1="255.9" x2="270.6" y2="255.9" stroke="#111" stroke-width="1.3" />
<text x="265" y="259.3" font-size="9.5" font-weight="bold" text-anchor="end" fill="#1a1a1a" >5</text>
<line x1="288" y1="347.4" x2="288" y2="350.8" stroke="#111" stroke-width="1.3" />
<line x1="322.6" y1="347.4" x2="322.6" y2="350.8" stroke="#111" stroke-width="1.3" />
<line x1="357.4" y1="347.4" x2="357.4" y2="350.8" stroke="#111" stroke-width="1.3" />
<line x1="392.1" y1="347.4" x2="392.1" y2="350.8" stroke="#111" stroke-width="1.3" />
<text transform="translate(289.8,356.6) rotate(-45)" font-size="8.9" font-weight="bold" text-anchor="end" fill="#1a1a1a">HCC78</text>
<text transform="translate(324.4,356.6) rotate(-45)" font-size="8.9" font-weight="bold" text-anchor="end" fill="#1a1a1a">CUTO-2</text>
<text transform="translate(359.2,356.6) rotate(-45)" font-size="8.9" font-weight="bold" text-anchor="end" fill="#1a1a1a">CUTO-23</text>
<text transform="translate(393.9,356.6) rotate(-45)" font-size="8.9" font-weight="bold" text-anchor="end" fill="#1a1a1a">CUTO-33</text>
<text x="339.3" y="399.6" font-size="10.1" font-weight="bold" text-anchor="middle" fill="#1a1a1a" textLength="39.4" lengthAdjust="spacingAndGlyphs" >Cell line</text>
<text transform="translate(250.6,323.6) rotate(-90)" font-size="10.1" font-weight="bold" fill="#1a1a1a">Log IC<tspan font-size="7" dy="2.1">50</tspan></text>
<line x1="322.1" y1="228.5" x2="391.6" y2="228.5" stroke="#333" stroke-width="1.3" />
<line x1="322.1" y1="225.9" x2="322.1" y2="231.1" stroke="#222" stroke-width="1.4" />
<line x1="391.6" y1="225.9" x2="391.6" y2="231.1" stroke="#222" stroke-width="1.4" />
<polygon points="353.15,222.00 353.80,223.51 355.43,223.66 354.20,224.74 354.56,226.34 353.15,225.50 351.74,226.34 352.10,224.74 350.87,223.66 352.50,223.51" fill="#222"/>
<polygon points="357.70,222.00 358.35,223.51 359.98,223.66 358.75,224.74 359.11,226.34 357.70,225.50 356.29,226.34 356.65,224.74 355.42,223.66 357.05,223.51" fill="#222"/>
<polygon points="362.25,222.00 362.90,223.51 364.53,223.66 363.30,224.74 363.66,226.34 362.25,225.50 360.84,226.34 361.20,224.74 359.97,223.66 361.60,223.51" fill="#222"/>
<line x1="289.5" y1="239.6" x2="391.6" y2="239.6" stroke="#333" stroke-width="1.3" />
<line x1="289.5" y1="237" x2="289.5" y2="242.2" stroke="#222" stroke-width="1.4" />
<line x1="391.6" y1="237" x2="391.6" y2="242.2" stroke="#222" stroke-width="1.4" />
<polygon points="342.80,232.50 343.45,234.01 345.08,234.16 343.85,235.24 344.21,236.84 342.80,236.00 341.39,236.84 341.75,235.24 340.52,234.16 342.15,234.01" fill="#222"/>
<line x1="289.5" y1="250.3" x2="356.6" y2="250.3" stroke="#333" stroke-width="1.3" />
<line x1="289.5" y1="247.7" x2="289.5" y2="252.9" stroke="#222" stroke-width="1.4" />
<line x1="356.6" y1="247.7" x2="356.6" y2="252.9" stroke="#222" stroke-width="1.4" />
<polygon points="321.62,242.90 322.27,244.41 323.91,244.56 322.67,245.64 323.04,247.24 321.62,246.40 320.21,247.24 320.58,245.64 319.34,244.56 320.98,244.41" fill="#222"/>
<polygon points="326.18,242.90 326.82,244.41 328.46,244.56 327.22,245.64 327.59,247.24 326.18,246.40 324.76,247.24 325.13,245.64 323.89,244.56 325.53,244.41" fill="#222"/>
<line x1="321.8" y1="261.8" x2="355.6" y2="261.8" stroke="#333" stroke-width="1.3" />
<line x1="321.8" y1="259.2" x2="321.8" y2="264.4" stroke="#222" stroke-width="1.4" />
<line x1="355.6" y1="259.2" x2="355.6" y2="264.4" stroke="#222" stroke-width="1.4" />
<polygon points="332.57,256.10 333.22,257.61 334.86,257.76 333.62,258.84 333.99,260.44 332.57,259.60 331.16,260.44 331.53,258.84 330.29,257.76 331.93,257.61" fill="#222"/>
<polygon points="337.12,256.10 337.77,257.61 339.41,257.76 338.17,258.84 338.54,260.44 337.12,259.60 335.71,260.44 336.08,258.84 334.84,257.76 336.48,257.61" fill="#222"/>
<polygon points="341.68,256.10 342.32,257.61 343.96,257.76 342.72,258.84 343.09,260.44 341.68,259.60 340.26,260.44 340.63,258.84 339.39,257.76 341.03,257.61" fill="#222"/>
<polygon points="346.22,256.10 346.87,257.61 348.51,257.76 347.27,258.84 347.64,260.44 346.22,259.60 344.81,260.44 345.18,258.84 343.94,257.76 345.58,257.61" fill="#222"/>
<line x1="358.3" y1="261.8" x2="392.6" y2="261.8" stroke="#333" stroke-width="1.3" />
<line x1="358.3" y1="259.2" x2="358.3" y2="264.4" stroke="#222" stroke-width="1.4" />
<line x1="392.6" y1="259.2" x2="392.6" y2="264.4" stroke="#222" stroke-width="1.4" />
<polygon points="373.53,255.90 374.17,257.41 375.81,257.56 374.57,258.64 374.94,260.24 373.53,259.40 372.11,260.24 372.48,258.64 371.24,257.56 372.88,257.41" fill="#222"/>
<polygon points="378.08,255.90 378.72,257.41 380.36,257.56 379.12,258.64 379.49,260.24 378.08,259.40 376.66,260.24 377.03,258.64 375.79,257.56 377.43,257.41" fill="#222"/>
<line x1="287.7" y1="290.8" x2="322.5" y2="290.8" stroke="#333" stroke-width="1.3" />
<line x1="287.7" y1="288.2" x2="287.7" y2="293.4" stroke="#222" stroke-width="1.4" />
<line x1="322.5" y1="288.2" x2="322.5" y2="293.4" stroke="#222" stroke-width="1.4" />
<text x="306" y="288.4" font-size="11.4" font-weight="normal" text-anchor="middle" fill="#222" >ns</text>
</svg>
</body></html>
